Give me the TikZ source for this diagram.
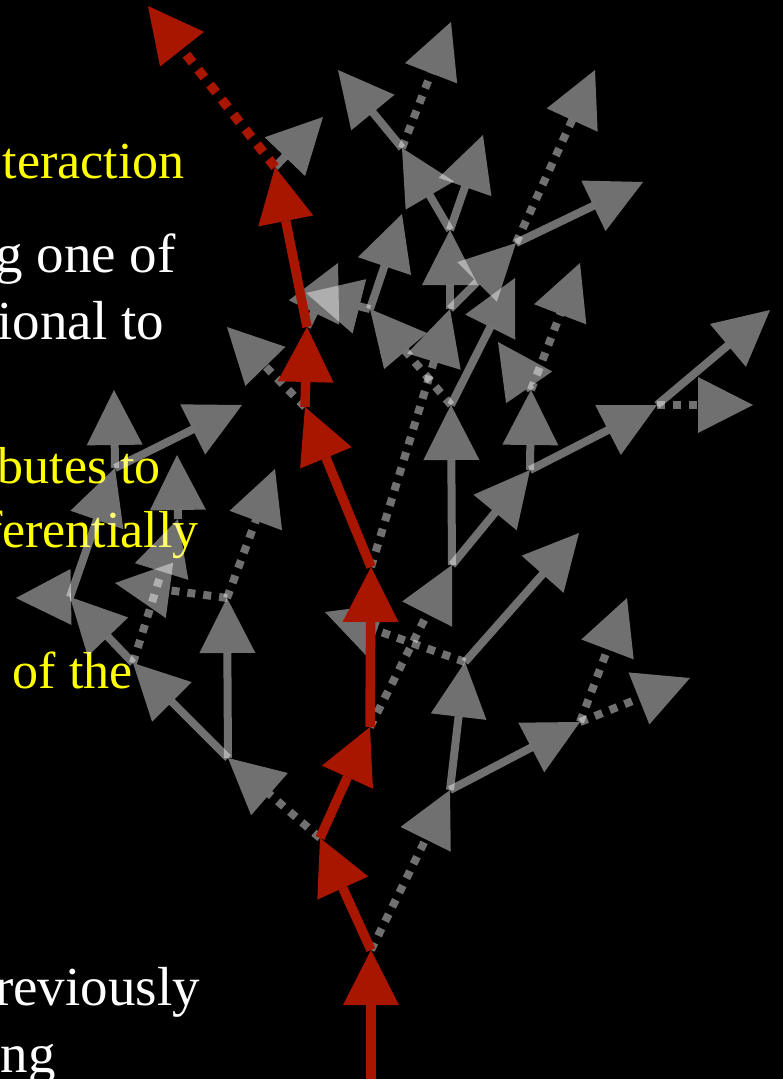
\documentclass[tikz,border=0pt]{standalone}
\usepackage{fontspec}
\setmainfont{Liberation Serif}
\usetikzlibrary{arrows.meta}
\definecolor{treered}{RGB}{168,22,0}
\definecolor{hlyellow}{RGB}{255,255,0}

\begin{document}
\begin{tikzpicture}[x=1pt, y=-1pt,
  bigtip/.style={-{Triangle[length=55pt,width=56pt,line width=0pt]}},
  grayarrow/.style={bigtip, draw=white, opacity=0.44, line width=8pt},
  graydots/.style={grayarrow, dash pattern=on 8pt off 8pt},
  redarrow/.style={bigtip, draw=treered, line width=9.5pt},
  reddots/.style={redarrow, dash pattern=on 10pt off 9pt},
  txt/.style={anchor=base east, inner sep=0pt, text=white, font=\fontsize{55}{66}\selectfont},
  hltxt/.style={txt, text=hlyellow, font=\fontsize{52}{62}\selectfont}]
\useasboundingbox (0,0) rectangle (783,1079);
\fill[black] (0,0) rectangle (783,1079);
\clip (0,0) rectangle (783,1079);

% slide text, cut at the left edge
\node[hltxt] (t1) at (185,178) {teraction};
\node[txt] (t2) at (176,272) {g one of};
\node[txt] (t3) at (164,339) {ional to};
\node[hltxt] (t4) at (161,483) {butes to};
\node[hltxt] (t5) at (199,547) {ferentially};
\node[hltxt] (t6) at (133,688) {of the};
\node[txt] (t7) at (200,1005) {reviously};
\node[txt] (t8) at (56,1072) {ng};

% main path
\coordinate (r0) at (371,1079);
\coordinate (r1) at (371,950);
\coordinate (r2) at (320,838);
\coordinate (r3) at (370,727);
\coordinate (r4) at (371,567);
\coordinate (r5) at (305,407);
\coordinate (r6) at (307,327);
\coordinate (r7) at (275,167);
\coordinate (r8) at (148,6);

% branch points
\coordinate (nc) at (450,790);
\coordinate (nb) at (465,662);
\coordinate (nd) at (580,722);
\coordinate (na) at (452,565);
\coordinate (ne) at (451,405);
\coordinate (nf) at (530,470);
\coordinate (ng) at (531,390);
\coordinate (nh) at (657,405);
\coordinate (nl) at (450,309);
\coordinate (nj) at (450,230);
\coordinate (nk) at (516,243);
\coordinate (ni) at (402,148);
\coordinate (nm) at (370,309);
\coordinate (la) at (228,758);
\coordinate (lb) at (133,663);
\coordinate (lc) at (70,597);
\coordinate (ld) at (115,468);
\coordinate (le) at (178,519);
\coordinate (lf) at (227,598);

% end points
\coordinate (e1) at (579,533);
\coordinate (e2) at (325,612);
\coordinate (e3) at (627,598);
\coordinate (e4) at (690,678);
\coordinate (e5) at (753,405);
\coordinate (e6) at (770,310);
\coordinate (e7) at (580,263);
\coordinate (e8) at (498,342);
\coordinate (e9) at (515,278);
\coordinate (e10) at (402,214);
\coordinate (e11) at (306,293);
\coordinate (e12) at (338,263);
\coordinate (e13) at (323,117);
\coordinate (e14) at (338,70);
\coordinate (e15) at (451,22);
\coordinate (e16) at (483,135);
\coordinate (e17) at (643,182);
\coordinate (e18) at (595,70);
\coordinate (e19) at (227,327);
\coordinate (e20) at (16,598);
\coordinate (e21) at (114,390);
\coordinate (e22) at (242,405);
\coordinate (e23) at (177,455);
\coordinate (e24) at (275,469);
\coordinate (e25) at (115,583);

% side branches
\draw[graydots] (r1) -- (nc);
\draw[grayarrow] (nc) -- (nb);
\draw[grayarrow] (nc) -- (nd);
\draw[grayarrow] (nb) -- (e1);
\draw[graydots] (nb) -- (e2);
\draw[graydots] (nd) -- (e3);
\draw[graydots] (nd) -- (e4);
\draw[graydots] (r3) -- (na);
\draw[grayarrow] (na) -- (ne);
\draw[grayarrow] (na) -- (nf);
\draw[grayarrow] (nf) -- (ng);
\draw[grayarrow] (nf) -- (nh);
\draw[graydots] (nh) -- (e5);
\draw[grayarrow] (nh) -- (e6);
\draw[graydots] (ng) -- (e7);
\draw[grayarrow] (ng) -- (e8);
\draw[grayarrow] (ne) -- (e9);
\draw[graydots] (ne) -- (nm);
\draw[grayarrow] (nm) -- (e10);
\draw[grayarrow] (nm) -- (e11);
\draw[graydots] (r4) -- (nl);
\draw[grayarrow] (nl) -- (nj);
\draw[grayarrow] (nl) -- (nk);
\draw[grayarrow] (nj) -- (ni);
\draw[grayarrow] (nj) -- (e16);
\draw[grayarrow] (ni) -- (e14);
\draw[graydots] (ni) -- (e15);
\draw[grayarrow] (nk) -- (e17);
\draw[graydots] (nk) -- (e18);
\draw[graydots] (r2) -- (la);
\draw[grayarrow] (la) -- (lb);
\draw[grayarrow] (la) -- (lf);
\draw[grayarrow] (lb) -- (lc);
\draw[graydots] (lb) -- (le);
\draw[grayarrow] (lc) -- (ld);
\draw[grayarrow] (lc) -- (e20);
\draw[grayarrow] (ld) -- (e21);
\draw[grayarrow] (ld) -- (e22);
\draw[grayarrow] (le) -- (e23);
\draw[graydots] (lf) -- (e24);
\draw[graydots] (lf) -- (e25);
\draw[graydots] (r5) -- (e19);
\draw[grayarrow] (r6) -- (e12);
\draw[grayarrow] (r7) -- (e13);

% main path on top
\draw[redarrow] (r0) -- (r1);
\draw[redarrow] (r1) -- (r2);
\draw[redarrow] (r2) -- (r3);
\draw[redarrow] (r3) -- (r4);
\draw[redarrow] (r4) -- (r5);
\draw[redarrow] (r5) -- (r6);
\draw[redarrow] (r6) -- (r7);
\draw[reddots] (r7) -- (r8);
\end{tikzpicture}
\end{document}
